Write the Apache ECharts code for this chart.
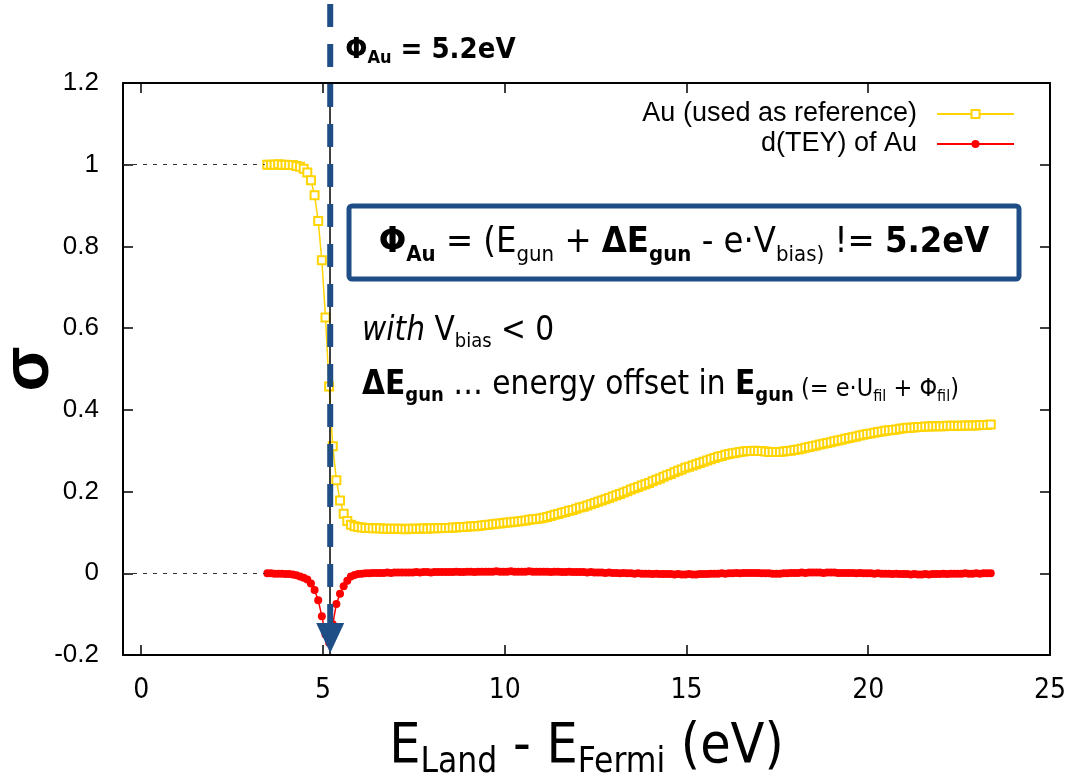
<!DOCTYPE html>
<html>
<head>
<meta charset="utf-8">
<script src="https://cdn.jsdelivr.net/npm/echarts@6/dist/echarts.min.js"></script>
<style>
  html, body { margin: 0; padding: 0; background: #ffffff; }
  #chart { width: 1075px; height: 780px; }
</style>
</head>
<body>
<div id="chart"></div>
<script>
// Energy grid of the scan (eV above the Fermi level)
const energyStart = 3.47;
const energyStep = 0.1;

// Normalised TEY of the Au reference
const auTey = [
  1.000, 1.000, 1.000, 1.001, 1.000, 1.000, 0.999, 0.999, 0.997, 0.995,
  0.990, 0.981, 0.962, 0.925, 0.862, 0.766, 0.626, 0.457, 0.311, 0.228,
  0.178, 0.146, 0.128, 0.119, 0.115, 0.113, 0.112, 0.111, 0.111, 0.110,
  0.110, 0.110, 0.109, 0.109, 0.109, 0.109, 0.109, 0.109, 0.108, 0.109,
  0.109, 0.109, 0.109, 0.110, 0.109, 0.110, 0.110, 0.110, 0.111, 0.111,
  0.111, 0.112, 0.112, 0.113, 0.113, 0.114, 0.115, 0.115, 0.116, 0.117,
  0.118, 0.119, 0.120, 0.121, 0.122, 0.123, 0.124, 0.125, 0.126, 0.127,
  0.128, 0.129, 0.131, 0.132, 0.133, 0.134, 0.136, 0.138, 0.140, 0.143,
  0.145, 0.148, 0.150, 0.153, 0.155, 0.158, 0.161, 0.163, 0.166, 0.169,
  0.172, 0.175, 0.178, 0.181, 0.184, 0.188, 0.191, 0.194, 0.198, 0.201,
  0.205, 0.208, 0.211, 0.215, 0.218, 0.221, 0.225, 0.229, 0.232, 0.236,
  0.240, 0.243, 0.247, 0.251, 0.254, 0.258, 0.261, 0.264, 0.267, 0.270,
  0.273, 0.276, 0.279, 0.282, 0.285, 0.287, 0.290, 0.292, 0.294, 0.295,
  0.297, 0.298, 0.299, 0.299, 0.300, 0.299, 0.299, 0.298, 0.297, 0.297,
  0.297, 0.297, 0.298, 0.299, 0.300, 0.302, 0.303, 0.305, 0.307, 0.309,
  0.311, 0.313, 0.315, 0.317, 0.319, 0.321, 0.323, 0.325, 0.327, 0.329,
  0.331, 0.333, 0.335, 0.337, 0.339, 0.341, 0.342, 0.344, 0.346, 0.347,
  0.349, 0.350, 0.351, 0.352, 0.354, 0.355, 0.356, 0.356, 0.357, 0.358,
  0.358, 0.359, 0.359, 0.360, 0.360, 0.360, 0.360, 0.361, 0.361, 0.361,
  0.361, 0.361, 0.362, 0.362, 0.362, 0.362, 0.363, 0.363, 0.363, 0.364
];

// Derivative of the TEY signal
const dTey = [
  0.000, 0.000, -0.001, -0.001, -0.001, -0.002, -0.002, -0.003, -0.005, -0.008,
  -0.011, -0.015, -0.025, -0.041, -0.066, -0.105, -0.150, -0.170, -0.125, -0.075,
  -0.050, -0.032, -0.018, -0.008, -0.004, -0.002, -0.001, 0.000, 0.000, 0.001,
  0.001, 0.001, 0.001, 0.002, 0.001, 0.002, 0.002, 0.002, 0.002, 0.002,
  0.002, 0.003, 0.002, 0.003, 0.003, 0.002, 0.003, 0.003, 0.003, 0.003,
  0.003, 0.003, 0.004, 0.003, 0.003, 0.004, 0.004, 0.003, 0.004, 0.004,
  0.004, 0.004, 0.004, 0.005, 0.004, 0.004, 0.004, 0.005, 0.004, 0.004,
  0.004, 0.004, 0.005, 0.004, 0.004, 0.004, 0.004, 0.004, 0.003, 0.004,
  0.004, 0.003, 0.003, 0.004, 0.003, 0.003, 0.003, 0.003, 0.002, 0.003,
  0.002, 0.002, 0.002, 0.001, 0.002, 0.001, 0.001, 0.000, 0.001, 0.000,
  0.000, -0.001, 0.000, -0.001, -0.001, -0.001, -0.002, -0.001, -0.002, -0.002,
  -0.002, -0.002, -0.003, -0.002, -0.003, -0.003, -0.002, -0.003, -0.003, -0.002,
  -0.002, -0.002, -0.001, -0.001, -0.001, 0.000, -0.001, 0.000, 0.000, 0.001,
  0.000, 0.001, 0.001, 0.001, 0.001, 0.001, 0.000, 0.000, 0.000, -0.001,
  -0.001, -0.001, 0.000, 0.000, 0.001, 0.001, 0.001, 0.002, 0.001, 0.002,
  0.002, 0.002, 0.002, 0.001, 0.002, 0.002, 0.002, 0.001, 0.001, 0.001,
  0.001, 0.001, 0.000, 0.001, 0.000, 0.000, 0.000, -0.001, 0.000, -0.001,
  -0.001, -0.001, -0.002, -0.001, -0.002, -0.002, -0.002, -0.003, -0.002, -0.003,
  -0.003, -0.002, -0.003, -0.002, -0.002, -0.002, -0.001, -0.002, -0.001, -0.001,
  -0.001, -0.001, 0.000, -0.001, -0.001, 0.000, -0.001, 0.000, 0.000, 0.000
];

const seriesNames = ['Au (used as reference)', 'd(TEY) of Au'];
const xTicks = [0, 5, 10, 15, 20, 25];
const xRange = [-0.5, 25];
const yRange = [-0.2, 1.2];
const yStep = 0.2;
const phiAu = 5.2;          // work function of Au (eV)
const refLevels = [1, 0];   // dashed guide levels
const refLineEnd = 3.4;

const energy = auTey.map((_, i) => +(energyStart + i * energyStep).toFixed(2));

const YELLOW = '#ffd400';
const RED = '#ff0000';
const BLUE = '#1f4e86';
const SANS = "'Liberation Sans', Arial, sans-serif";
const NARROW = "'Liberation Sans Narrow', 'DejaVu Sans Condensed', sans-serif";
const COND = "'DejaVu Sans Condensed', 'DejaVu Sans', sans-serif";

const chart = echarts.init(document.getElementById('chart'), null, { renderer: 'canvas' });

function axisCommon(extra) {
  return Object.assign({
    type: 'value',
    axisLine: { show: true, onZero: false, lineStyle: { color: '#000', width: 2 } },
    axisTick: { show: true, inside: true, length: 10, lineStyle: { color: '#000', width: 1.5 } },
    splitLine: { show: false }
  }, extra);
}

const option = {
  animation: false,
  backgroundColor: '#ffffff',
  grid: { left: 123, right: 25, top: 83, bottom: 125, containLabel: false, outerBoundsMode: 'none' },
  legend: {
    orient: 'vertical',
    right: 60,
    top: 99,
    padding: 0,
    align: 'right',
    itemWidth: 77,
    itemHeight: 10,
    itemGap: 0,
    selectedMode: false,
    data: seriesNames,
    textStyle: { fontFamily: SANS, fontSize: 27, color: '#000', lineHeight: 30, padding: [0, 15, 0, 0] }
  },
  xAxis: [
    axisCommon({
      position: 'bottom',
      min: xRange[0], max: xRange[1],
      axisTick: { show: true, inside: true, length: 10, customValues: xTicks, lineStyle: { color: '#000', width: 1.5 } },
      axisLabel: { customValues: xTicks, margin: 22, fontFamily: NARROW, fontSize: 28, color: '#000' },
      name: '{e|E}{s|Land}{e| - E}{s|Fermi}{e| (eV)}',
      nameLocation: 'middle',
      nameGap: 60,
      nameTextStyle: {
        rich: {
          e: { fontFamily: COND, fontSize: 55, lineHeight: 66, color: '#000' },
          s: { fontFamily: COND, fontSize: 35, lineHeight: 35, padding: [30, 0, 0, 0], color: '#000' }
        }
      }
    }),
    axisCommon({
      position: 'top',
      min: xRange[0], max: xRange[1],
      axisTick: { show: true, inside: true, length: 10, customValues: xTicks, lineStyle: { color: '#000', width: 1.5 } },
      axisLabel: { show: false }
    })
  ],
  yAxis: [
    axisCommon({
      position: 'left',
      min: yRange[0], max: yRange[1], interval: yStep,
      axisLabel: { margin: 24, fontFamily: SANS, fontSize: 26, color: '#000' },
      name: 'σ',
      nameLocation: 'middle',
      nameRotate: 90,
      nameGap: 60,
      nameMoveOverlap: false,
      nameTextStyle: { fontFamily: SANS, fontSize: 66, fontWeight: 'bold', color: '#000' }
    }),
    axisCommon({
      position: 'right',
      min: yRange[0], max: yRange[1], interval: yStep,
      axisLabel: { show: false }
    })
  ],
  series: [
    {
      name: seriesNames[0],
      type: 'line',
      xAxisIndex: 0, yAxisIndex: 0,
      data: energy.map((e, i) => [e, auTey[i]]),
      symbol: 'emptyRect',
      symbolSize: 8,
      showSymbol: true,
      lineStyle: { color: YELLOW, width: 1.5 },
      itemStyle: { color: YELLOW, borderColor: YELLOW, borderWidth: 1.5 },
      emphasis: { disabled: true },
      z: 3,
      markLine: {
        silent: true,
        symbol: 'none',
        label: { show: false },
        lineStyle: { color: '#000', width: 1.5, type: 'solid' },
        data: [{ xAxis: phiAu }].concat(
          refLevels.map(v => [
            { coord: [xRange[0], v], lineStyle: { color: '#333', width: 1, type: [4, 6] } },
            { coord: [refLineEnd, v] }
          ])
        )
      }
    },
    {
      name: seriesNames[1],
      type: 'line',
      xAxisIndex: 0, yAxisIndex: 0,
      data: energy.map((e, i) => [e, dTey[i]]),
      symbol: 'circle',
      symbolSize: 8,
      showSymbol: true,
      lineStyle: { color: RED, width: 1.5 },
      itemStyle: { color: RED },
      emphasis: { disabled: true },
      z: 4
    }
  ]
};

chart.setOption(option);

// Annotations: work-function marker and the formula box
const xPhi = chart.convertToPixel({ xAxisIndex: 0 }, phiAu);
const yBottom = chart.convertToPixel({ yAxisIndex: 0 }, yRange[0]);
const headTop = yBottom - 32;

const boxRich = {
  n: { fontFamily: COND, fontSize: 36, lineHeight: 48, color: BLUE },
  b: { fontFamily: COND, fontSize: 36, lineHeight: 48, fontWeight: 'bold', color: BLUE },
  s: { fontFamily: COND, fontSize: 22, lineHeight: 22, padding: [24, 0, 0, 0], color: BLUE },
  bs: { fontFamily: COND, fontSize: 22, lineHeight: 22, padding: [24, 0, 0, 0], fontWeight: 'bold', color: BLUE }
};

const noteRich = {
  n: { fontFamily: COND, fontSize: 33, lineHeight: 42, color: '#000' },
  i: { fontFamily: COND, fontSize: 33, lineHeight: 42, fontStyle: 'italic', color: '#000' },
  b: { fontFamily: COND, fontSize: 33, lineHeight: 42, fontWeight: 'bold', color: '#000' },
  s: { fontFamily: COND, fontSize: 20, lineHeight: 20, padding: [21, 0, 0, 0], color: '#000' },
  bs: { fontFamily: COND, fontSize: 20, lineHeight: 20, padding: [21, 0, 0, 0], fontWeight: 'bold', color: '#000' },
  p: { fontFamily: COND, fontSize: 25, lineHeight: 25, padding: [9, 0, 0, 0], color: '#000' },
  ps: { fontFamily: COND, fontSize: 16, lineHeight: 16, padding: [24, 0, 0, 0], color: '#000' }
};

const topRich = {
  b: { fontFamily: COND, fontSize: 29, lineHeight: 36, fontWeight: 'bold', color: BLUE },
  bs: { fontFamily: COND, fontSize: 18, lineHeight: 18, padding: [17, 0, 0, 0], fontWeight: 'bold', color: BLUE }
};

chart.setOption({
  graphic: [
    {
      type: 'line', z: 100, silent: true,
      shape: { x1: xPhi, y1: 4, x2: xPhi, y2: headTop + 2 },
      style: { stroke: BLUE, lineWidth: 6, lineDash: [23, 17] }
    },
    {
      type: 'polygon', z: 101, silent: true,
      shape: { points: [[xPhi - 14, headTop], [xPhi + 14, headTop], [xPhi, yBottom - 2]] },
      style: { fill: BLUE }
    },
    {
      type: 'text', z: 100, silent: true,
      x: xPhi + 15, y: 50,
      style: {
        text: '{b|Φ}{bs|Au}{b| = 5.2eV}',
        rich: topRich,
        align: 'left', verticalAlign: 'middle'
      }
    },
    {
      type: 'rect', z: 90, silent: true,
      shape: { x: 349, y: 206, width: 670, height: 73, r: 3 },
      style: { fill: '#ffffff', stroke: BLUE, lineWidth: 5 }
    },
    {
      type: 'text', z: 91, silent: true,
      x: 684, y: 243,
      style: {
        text: '{b|Φ}{bs|Au}{n| = (E}{s|gun}{n| + }{b|ΔE}{bs|gun}{n| - e·V}{s|bias)}{n| != }{b|5.2eV}',
        rich: boxRich,
        align: 'center', verticalAlign: 'middle'
      }
    },
    {
      type: 'text', z: 91, silent: true,
      x: 362, y: 331,
      style: {
        text: '{i|with}{n| V}{s|bias}{n| < 0}',
        rich: noteRich,
        align: 'left', verticalAlign: 'middle'
      }
    },
    {
      type: 'text', z: 91, silent: true,
      x: 362, y: 385,
      style: {
        text: '{b|ΔE}{bs|gun}{n| … energy offset in }{b|E}{bs|gun}{p| (= e·U}{ps|fil}{p| + Φ}{ps|fil}{p|)}',
        rich: noteRich,
        align: 'left', verticalAlign: 'middle'
      }
    }
  ]
});
</script>
</body>
</html>
